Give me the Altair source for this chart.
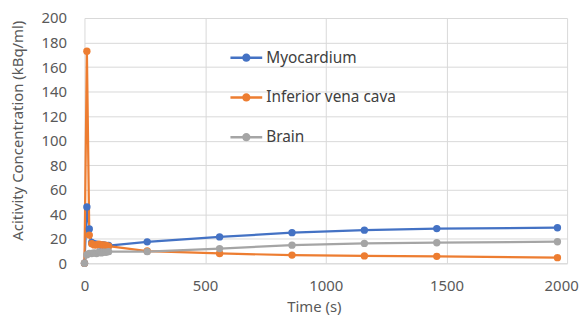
import altair as alt
import pandas as pd

times = [0, 10, 20, 30, 40, 50, 60, 70, 80, 90, 100, 260, 560, 860, 1160, 1460, 1960]
myocardium = [0, 46, 28, 17, 16, 15.5, 15, 15, 15, 14.5, 14.5, 17.5, 21.5, 25, 27, 28.3, 29]
ivc = [0, 173, 23, 16, 15, 15, 15.5, 15, 15, 14.5, 14, 10, 8, 6.7, 6, 5.7, 4.6]
brain = [0, 7, 8, 8, 8.5, 8, 9, 8.5, 9, 9, 9.5, 9.5, 12, 14.8, 16.2, 16.8, 17.6]
series = ["Myocardium", "Inferior vena cava", "Brain"]
colors = ["#4472C4", "#ED7D31", "#A5A5A5"]
x_ticks = [0, 500, 1000, 1500, 2000]
y_ticks = [0, 20, 40, 60, 80, 100, 120, 140, 160, 180, 200]

rows = []
for name, vals in zip(series, [myocardium, ivc, brain]):
    for t, v in zip(times, vals):
        rows.append({"Time": t, "Value": v, "Series": name})
df = pd.DataFrame(rows)

FONT = "Noto Sans"
sym_path = ("M-1,-0.08L1,-0.08L1,0.08L-1,0.08Z "
            "M-0.26,0A0.26,0.26 0 1,1 0.26,0A0.26,0.26 0 1,1 -0.26,0Z")

x = alt.X("Time:Q", scale=alt.Scale(domain=[0, 2000], nice=False),
          axis=alt.Axis(values=x_ticks, format="d", title="Time (s)", grid=True,
                        ticks=False, labelFlush=False,
                        labelOffset=alt.condition("datum.value == 2000",
                                                  alt.value(-6), alt.value(0)),
                        domain=True, domainColor="#D9D9D9", labelPadding=15,
                        titlePadding=7, titleX=231, titleAlign="center"))
y = alt.Y("Value:Q", scale=alt.Scale(domain=[0, 200], nice=False),
          axis=alt.Axis(values=y_ticks, title="Acitivity Concentration (kBq/ml)",
                        grid=True, ticks=False, domain=False, labelPadding=18,
                        labelFlush=False,
                        titleX=-67, titleY=113, titleAngle=270, titleAlign="center",
                        titleBaseline="middle"))
legend = alt.Legend(title=None, orient="none", legendX=147, legendY=24,
                    symbolType=sym_path, symbolSize=1024,
                    symbolStrokeWidth=0, rowPadding=15, padding=0,
                    labelOffset=4, labelFontSize=15.5, labelFont=FONT,
                    labelColor="#404040", symbolOpacity=1)

lines = alt.Chart(df).mark_line(strokeWidth=2.25).encode(
    x=x, y=y,
    stroke=alt.Stroke("Series:N", scale=alt.Scale(domain=series, range=colors),
                      legend=None))
points = alt.Chart(df).mark_point(filled=True, size=55, opacity=1, strokeWidth=0).encode(
    x=x, y=y,
    fill=alt.Fill("Series:N", sort=series, scale=alt.Scale(range=colors), legend=legend))

chart = alt.layer(lines, points).properties(
    width=486, height=247,
    autosize=alt.AutoSizeParams(type="none"),
    padding={"left": 77, "top": 9, "right": 13, "bottom": 54},
).configure_axis(
    gridColor="#D9D9D9", gridWidth=1, labelFont=FONT, titleFont=FONT,
    labelFontSize=15, titleFontSize=15, labelColor="#595959", titleColor="#595959",
    titleFontWeight="normal",
).configure_view(stroke=None)

chart.save("out.html", embed_options={"renderer": "svg", "actions": False})
